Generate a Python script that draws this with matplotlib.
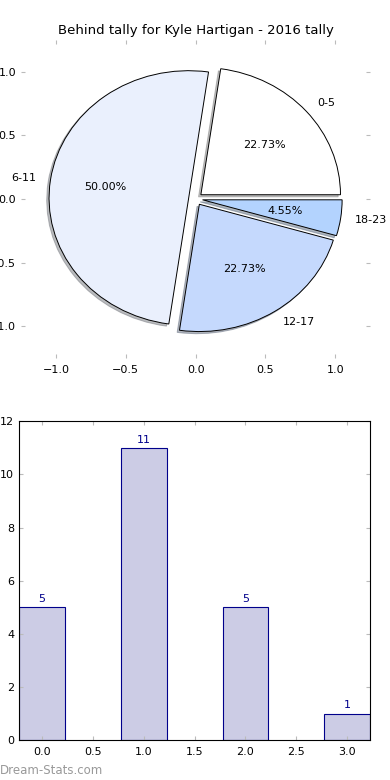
import matplotlib
matplotlib.use("Agg")
import matplotlib.pyplot as plt

# data
labels = ["0-5", "6-11", "12-17", "18-23"]
counts = [5, 11, 5, 1]
pie_colors = ["#ffffff", "#eaf0fd", "#c5d9fd", "#b3d3fe"]
explode = [0.05, 0.05, 0.05, 0.05]
bar_x = [0, 1, 2, 3]

title = "Behind tally for Kyle Hartigan - 2016 tally"

plt.rcParams['font.family'] = ['DejaVu Sans']

fig = plt.figure(figsize=(3.9, 7.8), dpi=100)

# pie
ax1 = fig.add_axes([0.054, 0.541, 0.895, 0.408])
wedges, texts, autotexts = ax1.pie(counts, labels=labels, colors=pie_colors,
                                   explode=explode, autopct='%1.2f%%',
                                   shadow={'ox': -0.012, 'oy': -0.012, 'shade': 0.5},
                                   frame=True,
                                   wedgeprops={'edgecolor': 'black', 'linewidth': 0.7},
                                   textprops={'fontsize': 8})
ax1.set_aspect('auto')
ax1.set_xlim(-1.25, 1.25)
ax1.set_ylim(-1.25, 1.25)
ax1.set_xticks([-1.0, -0.5, 0.0, 0.5, 1.0])
ax1.set_yticks([-1.0, -0.5, 0.0, 0.5, 1.0])
for s in ax1.spines.values():
    s.set_visible(False)
ax1.tick_params(direction='in', color='#bbbbbb', length=3, labelsize=8,
                top=True, right=True)
ax1.tick_params(axis='x', pad=5)
ax1.set_title(title, fontsize=9.5, pad=4)

# bars
ax2 = fig.add_axes([0.049, 0.051, 0.9, 0.409])
bars = ax2.bar(bar_x, counts, width=0.45, color='#cccce5', edgecolor='#00008b',
               linewidth=0.8)
for b, c in zip(bars, counts):
    ax2.text(b.get_x() + b.get_width() / 2, c + 0.12, str(c), ha='center',
             va='bottom', fontsize=8, color='#00008b')
ax2.set_xlim(-0.225, 3.225)
ax2.set_ylim(0, 12)
ax2.set_xticks([0.0, 0.5, 1.0, 1.5, 2.0, 2.5, 3.0])
ax2.set_yticks([0, 2, 4, 6, 8, 10, 12])
ax2.tick_params(direction='in', color='#bbbbbb', length=3, labelsize=8,
                top=True, right=True)
ax2.tick_params(axis='x', pad=5)

fig.text(0.0, 0.004, "Dream-Stats.com", fontsize=8.5, color='#999999',
         ha='left', va='bottom')

fig.savefig("out.png", dpi=100)
